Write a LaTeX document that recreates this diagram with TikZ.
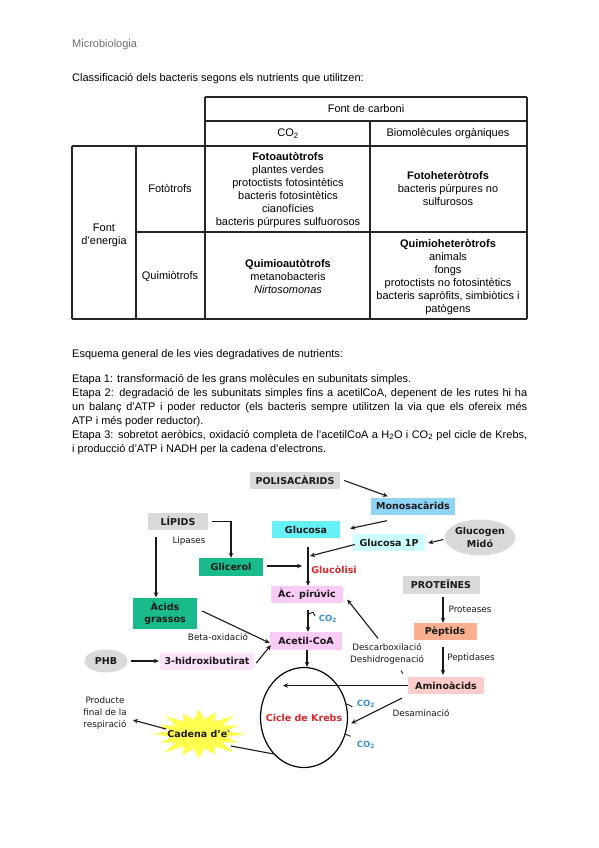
\documentclass[tikz,border=0pt]{standalone}
\usepackage{fontspec}
\setmainfont{Liberation Sans}
\newfontfamily\djfont{DejaVu Sans}
\usetikzlibrary{shapes.geometric,arrows.meta,calc}
\definecolor{gbox}{HTML}{D9D9D9}
\definecolor{cmono}{HTML}{8FD4F5}
\definecolor{cglu}{HTML}{66F0F7}
\definecolor{cg1p}{HTML}{CCFFFF}
\definecolor{cgreen}{HTML}{19BA8C}
\definecolor{cpink}{HTML}{F9CCF7}
\definecolor{clpink}{HTML}{FDE2FB}
\definecolor{cpep}{HTML}{F9B08E}
\definecolor{camino}{HTML}{FCCDCB}
\definecolor{cred}{HTML}{E0262B}
\definecolor{cblue}{HTML}{3A8FD0}
\definecolor{cyel}{HTML}{FFFF50}
\definecolor{tgray}{HTML}{6E6E6E}
\begin{document}
\begin{tikzpicture}[x=1pt,y=-1pt,
  tline/.style={line width=1.2pt, draw=black!85},
  body/.style={font=\fontsize{11}{14}\selectfont, inner sep=0pt},
  cell/.style={font=\fontsize{11}{13}\selectfont, align=center, inner sep=0pt},
  box/.style={font=\djfont\fontsize{9.5}{11}\selectfont\bfseries, inner sep=0pt, text=black!90},
  lbl/.style={font=\djfont\fontsize{8.8}{12}\selectfont, inner sep=0pt, text=black!90, align=center},
  arr/.style={-{Stealth[length=5pt,width=4.5pt]}, line width=1.1pt, black!90},
  ln/.style={line width=1.1pt, black!90}]
\useasboundingbox[fill=white] (0,0) rectangle (599,848);

% ---------- header texts
\node[body, anchor=base west, text=tgray] (micro) at (72,48) {Microbiologia};
\node[body, anchor=base west] (classif) at (72,82) {Classificació dels bacteris segons els nutrients que utilitzen:};

% ---------- table
\draw[tline] (205,97) -- (527,97);
\draw[tline] (205,121) -- (527,121);
\draw[tline] (72,146) -- (527,146);
\draw[tline] (136,232) -- (527,232);
\draw[tline] (72,319) -- (527,319);
\draw[tline] (72,146) -- (72,319);
\draw[tline] (136,146) -- (136,319);
\draw[tline] (205,97) -- (205,319);
\draw[tline] (370,121) -- (370,319);
\draw[tline] (527,97) -- (527,319);

\node[cell] (fcarb) at (366,109) {Font de carboni};
\node[cell] (co2h) at (288,133.5) {CO\textsubscript{2}};
\node[cell] (biom) at (448,133.5) {Biomolècules orgàniques};
\node[cell] (fener) at (104,235.5) {Font\\d’energia};
\node[cell] (fotot) at (170,189) {Fotòtrofs};
\node[cell] (quimt) at (170,276) {Quimiòtrofs};
\node[cell] (fauto) at (288,190.5) {\textbf{Fotoautòtrofs}\\plantes verdes\\protoctists fotosintètics\\bacteris fotosintètics\\cianofícies\\bacteris púrpures sulfuorosos};
\node[cell] (fhet) at (448,189) {\textbf{Fotoheteròtrofs}\\bacteris púrpures no\\sulfurosos};
\node[cell] (qauto) at (288,277) {\textbf{Quimioautòtrofs}\\metanobacteris\\\textit{Nirtosomonas}};
\node[cell] (qhet) at (448,277) {\textbf{Quimioheteròtrofs}\\animals\\fongs\\protoctists no fotosintètics\\bacteris sapròfits, simbiòtics i\\patògens};

% ---------- text block
\node[body, anchor=base west] (esq) at (72,357) {Esquema general de les vies degradatives de nutrients:};
\node[body, anchor=north west, text width=455pt, align=justify] (etapes) at (72,374) {%
Etapa 1: transformació de les grans molècules en subunitats simples.\\
Etapa 2: degradació de les subunitats simples fins a acetilCoA, depenent de les rutes hi ha\linebreak
un balanç d’ATP i poder reductor (els bacteris sempre utilitzen la via que els ofereix més\linebreak
ATP i més poder reductor).\\
Etapa 3: sobretot aeròbics, oxidació completa de l’acetilCoA a H\textsubscript{2}O i CO\textsubscript{2} pel cicle de Krebs,\linebreak
i producció d’ATP i NADH per la cadena d’electrons.};

% ---------- diagram nodes
\node[box, fill=gbox, minimum width=90pt, minimum height=17pt] (pol) at (295,480.5) {POLISACÀRIDS};
\node[box, fill=cmono, minimum width=84pt, minimum height=17pt] (mono) at (413,506) {Monosacàrids};
\node[box, fill=cglu, minimum width=68pt, minimum height=17pt] (glu) at (306,529.5) {Glucosa};
\node[box, fill=cg1p, minimum width=72pt, minimum height=17pt] (g1p) at (389,542.5) {Glucosa 1P};
\node[box, ellipse, fill=gbox, minimum width=68pt, minimum height=36pt, align=center, font=\djfont\fontsize{9.5}{12.5}\selectfont\bfseries] (gcg) at (480,537.5) {Glucogen\\Midó};
\node[box, fill=gbox, minimum width=60pt, minimum height=17pt] (lip) at (178,521.5) {LÍPIDS};
\node[lbl] (lipases) at (189,541) {Lipases};
\node[box, fill=cgreen, minimum width=64pt, minimum height=18pt] (glic) at (231,567) {Glicerol};
\node[box, text=cred] (glucol) at (334,570) {Glucòlisi};
\node[box, fill=cpink, minimum width=72pt, minimum height=17pt] (pir) at (307,594.5) {Àc. pirúvic};
\node[box, fill=gbox, minimum width=77pt, minimum height=18pt] (prot) at (441,584.5) {PROTEÏNES};
\node[box, fill=cgreen, minimum width=64pt, minimum height=31pt, align=center, font=\djfont\fontsize{9.5}{12.5}\selectfont\bfseries] (ac) at (165,613) {Àcids\\grassos};
\node[box, text=cblue, font=\djfont\fontsize{8.5}{10}\selectfont\bfseries] (co2a) at (328,619) {CO\textsubscript{2}};
\node[lbl] (proteases) at (470,609) {Proteases};
\node[box, fill=cpink, minimum width=72pt, minimum height=18pt] (acet) at (306,641) {Acetil-CoA};
\node[lbl] (beta) at (218,637) {Beta-oxidació};
\node[box, fill=cpep, minimum width=63pt, minimum height=17pt] (pep) at (445,631.5) {Pèptids};
\node[lbl] (desc) at (387,654) {Descarboxilació\\Deshidrogenació};
\node[lbl] (peptid) at (471,658) {Peptidases};
\node[box, ellipse, fill=gbox, minimum width=43pt, minimum height=23pt] (phb) at (106,661) {PHB};
\node[box, fill=clpink, minimum width=94pt, minimum height=17pt] (hb) at (207,661) {3-hidroxibutirat};
\node[box, fill=camino, minimum width=76pt, minimum height=17pt] (amino) at (446,685.5) {Aminoàcids};
\node[ellipse, draw=black, line width=1.2pt, minimum width=87pt, minimum height=100pt, inner sep=0pt] (krebs) at (304,717.5) {};
\node[box, text=cred, font=\djfont\fontsize{9.5}{11}\selectfont\bfseries] (kt) at (304,718) {Cicle de Krebs};
\node[box, text=cblue, font=\djfont\fontsize{8.5}{10}\selectfont\bfseries] (co2b) at (366,704) {CO\textsubscript{2}};
\node[box, text=cblue, font=\djfont\fontsize{8.5}{10}\selectfont\bfseries] (co2c) at (366,745) {CO\textsubscript{2}};
\node[lbl] (desam) at (421,713) {Desaminació};
\node[lbl] (prod) at (105,713) {Producte\\final de la\\respiració};

% ---------- starburst "Cadena d'e-"
\coordinate (cad) at (199,734);
\filldraw[fill=cyel, draw=yellow!60!white, line width=0.5pt]
  ($(cad)+(45,0)$)
  \foreach \a/\r in {11.25/0.62, 22.5/0.92, 33.75/0.6, 45/1.05, 56.25/0.62, 67.5/0.9, 78.75/0.6, 90/1.0, 101.25/0.62, 112.5/0.95, 123.75/0.6, 135/1.08, 146.25/0.62, 157.5/0.9, 168.75/0.6, 180/1.0, 191.25/0.62, 202.5/0.93, 213.75/0.6, 225/1.04, 236.25/0.62, 247.5/0.9, 258.75/0.6, 270/1.0, 281.25/0.62, 292.5/0.96, 303.75/0.6, 315/1.06, 326.25/0.62, 337.5/0.92, 348.75/0.6}
  { -- ($(cad)+({45*\r*cos(\a)},{24*\r*sin(\a)})$) } -- cycle;
\node[box] (cadt) at (cad) {Cadena d’e\textsuperscript{-}};

% ---------- coordinates
\coordinate (gtop) at (308,547);
\coordinate (kin) at (283,685.5);

% ---------- connectors
\draw[arr] ($(pol.east)+(4,0)$) -- ($(mono.north west)+(17,-1)$);
\draw[arr] ($(mono.south west)+(16,6)$) -- ($(glu.east)+(10,-1)$);
\draw[arr] ($(gcg.west)+(-1,2)$) -- ($(g1p.east)+(3,0.5)$);
\draw[arr] ($(g1p.west)+(2,2)$) -- ($(gtop)+(2,9)$);
\draw[arr] (gtop) -- (gtop |- pir.north);
\draw[arr] ($(glic.east)+(4,-1)$) -- ($(gtop |- glic.east)+(-6,-1)$);
\draw[arr] ($(lip.east)+(4,0)$) -| (glic.north);
\draw[arr] ($(lip.south)+(-22,7)$) -- ($(ac.north)+(-9,0)$);
\draw[arr] ($(ac.east)+(5,-2)$) -- ($(acet.west)+(0,2)$);
\draw[arr] ($(phb.east)+(3,0)$) -- ($(hb.west)+(-1,0)$);
\draw[arr] ($(hb.east)+(2,2)$) -- ($(acet.south west)+(1,-5)$);
\draw[arr] ($(pir.south)+(1,7)$) -- ($(acet.north)+(2,0)$);
\draw[ln, line width=0.9pt] ($(pir.south)+(1,11)$) -- ++(5,-2) -- ++(2,4);
\draw[arr] ($(acet.south)+(1,0)$) -- ($(acet.south |- krebs.north)+(1,0)$);
\draw[arr] (amino.west) -- (kin);
\draw[arr] ($(amino.south west)+(-6,4)$) -- ($(krebs.east)+(3,6)$);
\draw[arr] ($(desc.north)+(-9,-5)$) -- ($(pir.east)+(4,5)$);
\draw[ln, line width=0.9pt] ($(desc.south)+(14,6)$) -- ++(2,3);
\draw[arr] ($(prot.south)+(2,3)$) -- ($(pep.north)+(-2,0)$);
\draw[arr] ($(pep.south)+(-2,7)$) -- ($(amino.north)+(-3,-2)$);
\draw[ln, line width=0.9pt] (krebs.18) -- ++(6,3);
\draw[ln, line width=0.9pt] (krebs.-22) -- ++(5,2);
\draw[arr] ($(cad)+(-33,-5)$) -- ($(prod.east)+(6,7)$);
\draw[ln] ($(cad)+(32,12)$) -- (krebs.230);
\end{tikzpicture}
\end{document}
